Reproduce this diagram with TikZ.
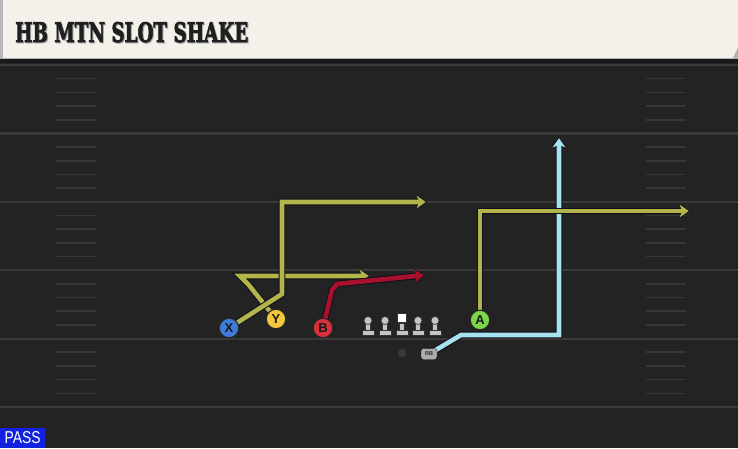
\documentclass[tikz,border=0pt]{standalone}
\usepackage{fontspec}
\usepackage{graphicx}
\usetikzlibrary{arrows.meta}
\newfontfamily\titlefont{DejaVu Serif}[UprightFont=* Bold, FakeBold=3]
\newfontfamily\playerfont{Liberation Sans}
\definecolor{bgc}{HTML}{232323}
\definecolor{yardc}{HTML}{3A3A3A}
\definecolor{hashc}{HTML}{363636}
\definecolor{routeolive}{HTML}{B3B44A}
\definecolor{routered}{HTML}{A8102C}
\definecolor{routeblue}{HTML}{A8E2EE}
\definecolor{outlinec}{HTML}{10101C}
\definecolor{titlebg}{HTML}{F4F1EA}
\definecolor{xblue}{HTML}{3F7BD9}
\definecolor{yyellow}{HTML}{F2C63C}
\definecolor{bred}{HTML}{D9313C}
\definecolor{agreen}{HTML}{7BD64A}
\definecolor{passblue}{HTML}{1222E0}
\definecolor{linegray}{HTML}{C4C4C4}
\newcommand\drawroute[2]{\draw[routeout] #2; \draw[routeline, draw=#1] #2;}
\tikzset{
  yard/.style={draw=yardc, line width=2.2pt},
  hashmark/.style={draw=hashc, line width=1.6pt},
  routeout/.style={draw=outlinec, line width=6.6pt, line join=miter, -{Stealth[length=10pt,width=14pt,inset=2.5pt]}},
  routeline/.style={line width=4.6pt, line join=miter, shorten >=1.2pt, -{Stealth[length=9pt,width=12.5pt,inset=2.3pt]}},
  player/.style={circle, draw=black!85, line width=1.1pt, minimum size=19.5pt, inner sep=0pt, text=black!90,
    font=\playerfont\bfseries\fontsize{13}{13}\selectfont},
  lineman/.pic={
    \fill[linegray, draw=black!80, line width=0.6pt] (-6,0) rectangle (6,-4.5);
    \fill[linegray, draw=black!80, line width=0.6pt] (-2.5,-4.5) rectangle (2.5,-13);
    \fill[linegray, draw=black!80, line width=0.6pt] (0,-14.5) circle (4);
  },
  centerman/.pic={
    \fill[linegray, draw=black!80, line width=0.6pt] (-6,0) rectangle (6,-4.5);
    \fill[linegray, draw=black!80, line width=0.6pt] (-2.5,-4.5) rectangle (2.5,-12);
    \fill[white, draw=black!80, line width=0.6pt] (-4.5,-12.5) rectangle (4.5,-21.5);
  }
}
\begin{document}
\begin{tikzpicture}[x=1pt,y=-1pt]
\fill[bgc] (0,0) rectangle (738,448);
\useasboundingbox (0,0) rectangle (738,448);
% title bar
\fill[black!90] (0,58) rectangle (738,63);
\fill[gray!70] (0,57.5) rectangle (738,59);
\fill[gray!60] (725,40) rectangle (738,59);
\fill[titlebg] (0,0) -- (738,0) -- (738,47) -- (733,58) -- (0,58) -- cycle;
\fill[gray!55] (0,0) rectangle (3,58);
\node[anchor=base west, inner sep=0pt, text=gray!70] (titleshadow) at (16,43)
  {\resizebox{233pt}{20pt}{\titlefont HB MTN SLOT SHAKE}};
\node[anchor=base west, inner sep=0pt, text=black!88] (title) at (15,42)
  {\resizebox{233pt}{20pt}{\titlefont HB MTN SLOT SHAKE}};
% yard lines
\foreach \y in {65,133.4,201.8,270.2,338.6,407} \draw[yard] (0,\y) -- (738,\y);
\foreach \y in {65,133.4,201.8,270.2,338.6} \foreach \k in {1,2,3,4} {
  \pgfmathsetmacro\hy{\y+13.68*\k}
  \draw[hashmark] (56,\hy) -- (96,\hy) (646,\hy) -- (686,\hy);
}
% players (positions)
\coordinate (Xc) at (229,328);
\coordinate (Yc) at (276,319);
\coordinate (Bc) at (323,328);
\coordinate (Ac) at (480,320);
\coordinate (RBc) at (429,354);
% route points
\coordinate (x1) at (282,294);
\coordinate (x2) at (282,202);
\coordinate (x3) at (427,202);
\coordinate (y1) at (248,284);
\coordinate (y2) at (240,276);
\coordinate (y3) at (370,276);
\coordinate (b1) at (332,290);
\coordinate (b2) at (337,284);
\coordinate (b3) at (425,275);
\coordinate (a1) at (480,211);
\coordinate (a2) at (690,211);
\coordinate (r1) at (461,335);
\coordinate (r2) at (559,335);
\coordinate (r3) at (559,137);
% routes
\drawroute{routeblue}{(RBc) -- (r1) -- (r2) -- (r3)}
\drawroute{routeolive}{(Ac) -- (a1) -- (a2)}
\drawroute{routeolive}{(Yc) -- (y1) -- (y2) -- (y3)}
\drawroute{routeolive}{(Xc) -- (x1) -- (x2) -- (x3)}
\drawroute{routered}{(Bc) -- (b1) -- (b2) -- (b3)}
% offensive line
\pic (lt) at (368,335) {lineman};
\pic (lg) at (385,335) {lineman};
\pic (c) at (402,335) {centerman};
\pic (rg) at (418,335) {lineman};
\pic (rt) at (435,335) {lineman};
% ball / QB
\node[circle, fill=gray!45!black, minimum size=8.5pt, inner sep=0pt] (ball) at (402,353) {};
% skill players
\node[player, fill=xblue] (X) at (Xc) {X};
\node[player, fill=yyellow] (Y) at (Yc) {Y};
\node[player, fill=bred] (B) at (Bc) {B};
\node[player, fill=agreen] (A) at (Ac) {A};
\node[draw=black!90, fill=gray!65, rounded corners=2.5pt, minimum width=16pt, minimum height=11pt,
  inner sep=0pt, text=black!85, font=\playerfont\bfseries\fontsize{5.5}{5.5}\selectfont] (RB) at (RBc) {RB};
% pass label
\node[fill=passblue, anchor=south west, minimum width=45pt, minimum height=20pt, inner sep=0pt, text=white]
  (pass) at (0,448) {\resizebox{36pt}{12pt}{\playerfont PASS}};
\end{tikzpicture}
\end{document}
